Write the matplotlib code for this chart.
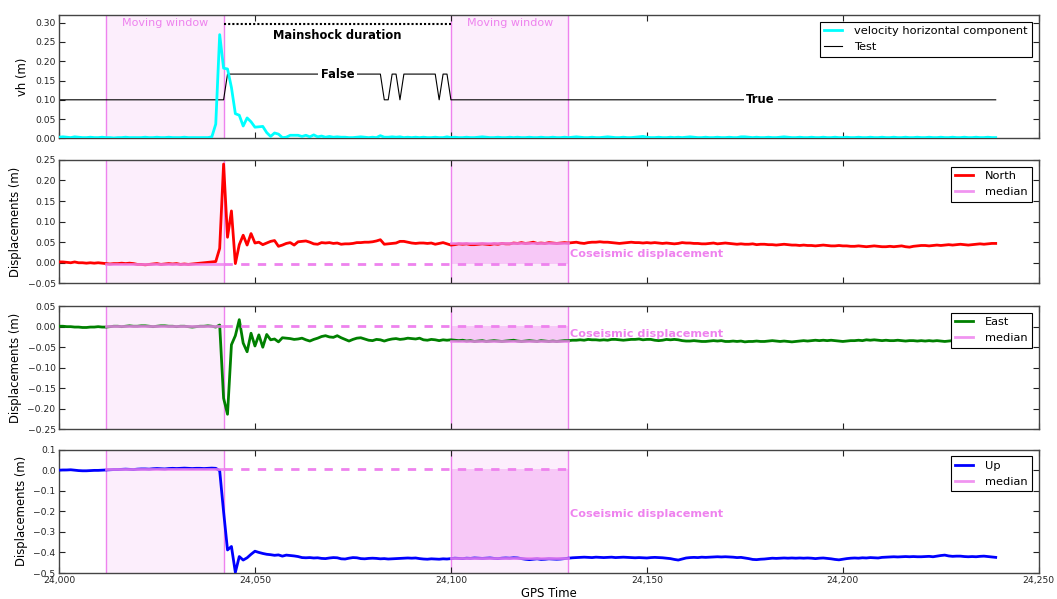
import numpy as np
import matplotlib
matplotlib.use("Agg")
import matplotlib.pyplot as plt
from matplotlib.ticker import StrMethodFormatter, MultipleLocator

# GPS epochs, one per second
T0 = 24000
N_EPOCHS = 240

# horizontal velocity (m)
vh = [
    0.003, 0.004, 0.003, 0.002, 0.004, 0.003, 0.002, 0.002, 0.003, 0.002,
    0.002, 0.003, 0.002, 0.002, 0.001, 0.002, 0.002, 0.003, 0.002, 0.002,
    0.002, 0.002, 0.003, 0.002, 0.002, 0.003, 0.002, 0.002, 0.003, 0.002,
    0.002, 0.002, 0.003, 0.002, 0.002, 0.002, 0.002, 0.002, 0.002, 0.004,
    0.037, 0.269, 0.182, 0.180, 0.132, 0.064, 0.060, 0.032, 0.053, 0.043,
    0.029, 0.030, 0.031, 0.015, 0.005, 0.014, 0.011, 0.002, 0.003, 0.008,
    0.008, 0.008, 0.005, 0.008, 0.004, 0.009, 0.004, 0.006, 0.003, 0.005,
    0.003, 0.004, 0.003, 0.003, 0.002, 0.002, 0.003, 0.004, 0.003, 0.002,
    0.003, 0.002, 0.007, 0.003, 0.003, 0.004, 0.003, 0.004, 0.002, 0.003,
    0.002, 0.003, 0.002, 0.003, 0.002, 0.002, 0.003, 0.002, 0.002, 0.004,
    0.002, 0.003, 0.002, 0.002, 0.003, 0.002, 0.002, 0.003, 0.004, 0.003,
    0.002, 0.002, 0.003, 0.002, 0.002, 0.003, 0.002, 0.003, 0.002, 0.002,
    0.003, 0.002, 0.002, 0.003, 0.002, 0.002, 0.003, 0.002, 0.002, 0.003,
    0.002, 0.003, 0.004, 0.003, 0.002, 0.002, 0.003, 0.002, 0.002, 0.003,
    0.004, 0.003, 0.002, 0.002, 0.003, 0.002, 0.002, 0.003, 0.004, 0.005,
    0.003, 0.002, 0.002, 0.003, 0.002, 0.002, 0.003, 0.002, 0.003, 0.002,
    0.003, 0.004, 0.003, 0.002, 0.002, 0.003, 0.002, 0.002, 0.003, 0.002,
    0.002, 0.003, 0.002, 0.002, 0.004, 0.004, 0.003, 0.002, 0.003, 0.002,
    0.002, 0.003, 0.002, 0.002, 0.003, 0.004, 0.003, 0.002, 0.002, 0.003,
    0.002, 0.002, 0.003, 0.002, 0.002, 0.003, 0.002, 0.002, 0.003, 0.002,
    0.002, 0.003, 0.002, 0.002, 0.003, 0.002, 0.002, 0.003, 0.002, 0.002,
    0.003, 0.002, 0.002, 0.003, 0.002, 0.002, 0.003, 0.002, 0.002, 0.003,
    0.002, 0.002, 0.003, 0.002, 0.002, 0.003, 0.002, 0.002, 0.003, 0.002,
    0.002, 0.003, 0.002, 0.002, 0.003, 0.002, 0.002, 0.003, 0.002, 0.002,
]

# mainshock test flag: 1 = True, 0 = False
test_flag = [
    1, 1, 1, 1, 1, 1, 1, 1, 1, 1, 1, 1, 1, 1, 1, 1, 1, 1, 1, 1,
    1, 1, 1, 1, 1, 1, 1, 1, 1, 1, 1, 1, 1, 1, 1, 1, 1, 1, 1, 1,
    1, 1, 1, 0, 0, 0, 0, 0, 0, 0, 0, 0, 0, 0, 0, 0, 0, 0, 0, 0,
    0, 0, 0, 0, 0, 0, 0, 0, 0, 0, 0, 0, 0, 0, 0, 0, 0, 0, 0, 0,
    0, 0, 0, 1, 1, 0, 0, 1, 0, 0, 0, 0, 0, 0, 0, 0, 0, 1, 0, 0,
    1, 1, 1, 1, 1, 1, 1, 1, 1, 1, 1, 1, 1, 1, 1, 1, 1, 1, 1, 1,
    1, 1, 1, 1, 1, 1, 1, 1, 1, 1, 1, 1, 1, 1, 1, 1, 1, 1, 1, 1,
    1, 1, 1, 1, 1, 1, 1, 1, 1, 1, 1, 1, 1, 1, 1, 1, 1, 1, 1, 1,
    1, 1, 1, 1, 1, 1, 1, 1, 1, 1, 1, 1, 1, 1, 1, 1, 1, 1, 1, 1,
    1, 1, 1, 1, 1, 1, 1, 1, 1, 1, 1, 1, 1, 1, 1, 1, 1, 1, 1, 1,
    1, 1, 1, 1, 1, 1, 1, 1, 1, 1, 1, 1, 1, 1, 1, 1, 1, 1, 1, 1,
    1, 1, 1, 1, 1, 1, 1, 1, 1, 1, 1, 1, 1, 1, 1, 1, 1, 1, 1, 1,
]
TRUE_LEVEL = 0.10
FALSE_LEVEL = 0.1667

north = [
    0.002, 0.002, 0.001, 0.000, 0.002, 0.000, 0.000, -0.001, 0.000, -0.001,
    0.000, -0.001, -0.002, -0.003, -0.002, -0.002, -0.001, -0.002, -0.001, -0.002,
    -0.004, -0.004, -0.005, -0.004, -0.003, -0.002, -0.004, -0.003, -0.002, -0.003,
    -0.002, -0.004, -0.003, -0.004, -0.003, -0.002, -0.001, 0.000, 0.001, 0.002,
    0.003, 0.035, 0.240, 0.062, 0.126, -0.002, 0.044, 0.067, 0.043, 0.071,
    0.048, 0.050, 0.044, 0.048, 0.052, 0.054, 0.040, 0.043, 0.047, 0.049,
    0.043, 0.051, 0.052, 0.053, 0.050, 0.046, 0.045, 0.049, 0.048, 0.049,
    0.047, 0.048, 0.045, 0.046, 0.046, 0.047, 0.049, 0.049, 0.050, 0.050,
    0.051, 0.053, 0.056, 0.045, 0.046, 0.047, 0.048, 0.052, 0.052, 0.050,
    0.048, 0.047, 0.048, 0.048, 0.047, 0.048, 0.045, 0.047, 0.049, 0.046,
    0.043, 0.044, 0.046, 0.045, 0.046, 0.044, 0.044, 0.045, 0.046, 0.045,
    0.044, 0.046, 0.045, 0.047, 0.046, 0.046, 0.048, 0.047, 0.049, 0.047,
    0.048, 0.050, 0.047, 0.048, 0.047, 0.049, 0.048, 0.047, 0.048, 0.049,
    0.048, 0.049, 0.050, 0.048, 0.047, 0.049, 0.050, 0.050, 0.051, 0.050,
    0.050, 0.049, 0.048, 0.047, 0.048, 0.049, 0.050, 0.049, 0.049, 0.048,
    0.049, 0.048, 0.049, 0.048, 0.047, 0.048, 0.047, 0.046, 0.047, 0.049,
    0.048, 0.048, 0.047, 0.047, 0.046, 0.046, 0.047, 0.048, 0.046, 0.047,
    0.048, 0.047, 0.046, 0.045, 0.046, 0.045, 0.045, 0.046, 0.044, 0.045,
    0.045, 0.044, 0.044, 0.043, 0.044, 0.045, 0.044, 0.043, 0.043, 0.042,
    0.043, 0.042, 0.042, 0.041, 0.042, 0.043, 0.042, 0.041, 0.041, 0.042,
    0.041, 0.041, 0.040, 0.040, 0.041, 0.040, 0.039, 0.040, 0.041, 0.040,
    0.039, 0.039, 0.040, 0.039, 0.040, 0.041, 0.039, 0.038, 0.040, 0.041,
    0.042, 0.042, 0.041, 0.042, 0.043, 0.042, 0.043, 0.044, 0.043, 0.044,
    0.045, 0.044, 0.043, 0.044, 0.045, 0.046, 0.045, 0.046, 0.047, 0.047,
]

east = [
    0.001, 0.001, 0.000, 0.000, -0.001, -0.001, -0.002, -0.002, -0.001, -0.001,
    0.000, -0.001, -0.001, 0.000, 0.001, 0.001, 0.000, 0.001, 0.002, 0.001,
    0.001, 0.002, 0.002, 0.001, 0.000, 0.001, 0.002, 0.002, 0.001, 0.001,
    0.000, 0.001, 0.001, 0.000, -0.001, 0.000, 0.001, 0.001, 0.002, 0.001,
    -0.001, 0.004, -0.174, -0.213, -0.044, -0.022, 0.017, -0.040, -0.061, -0.016,
    -0.047, -0.020, -0.050, -0.019, -0.032, -0.030, -0.037, -0.027, -0.028, -0.029,
    -0.031, -0.030, -0.028, -0.032, -0.035, -0.031, -0.028, -0.024, -0.022, -0.025,
    -0.026, -0.022, -0.027, -0.031, -0.035, -0.031, -0.028, -0.027, -0.030, -0.033,
    -0.034, -0.031, -0.032, -0.035, -0.032, -0.030, -0.029, -0.031, -0.030, -0.028,
    -0.029, -0.030, -0.028, -0.032, -0.033, -0.031, -0.032, -0.034, -0.032, -0.033,
    -0.032, -0.033, -0.034, -0.033, -0.035, -0.034, -0.036, -0.035, -0.034, -0.036,
    -0.035, -0.034, -0.035, -0.036, -0.035, -0.034, -0.033, -0.035, -0.036, -0.035,
    -0.034, -0.035, -0.036, -0.034, -0.035, -0.036, -0.035, -0.036, -0.035, -0.034,
    -0.034, -0.033, -0.033, -0.032, -0.033, -0.031, -0.032, -0.032, -0.033, -0.032,
    -0.033, -0.031, -0.031, -0.032, -0.033, -0.032, -0.031, -0.031, -0.030, -0.032,
    -0.031, -0.031, -0.033, -0.034, -0.033, -0.031, -0.032, -0.031, -0.032, -0.034,
    -0.035, -0.035, -0.034, -0.035, -0.036, -0.036, -0.035, -0.034, -0.035, -0.034,
    -0.036, -0.036, -0.035, -0.036, -0.035, -0.037, -0.036, -0.036, -0.035, -0.036,
    -0.036, -0.035, -0.034, -0.035, -0.036, -0.035, -0.036, -0.037, -0.036, -0.035,
    -0.034, -0.035, -0.034, -0.033, -0.034, -0.033, -0.034, -0.033, -0.034, -0.035,
    -0.036, -0.035, -0.034, -0.034, -0.033, -0.034, -0.032, -0.033, -0.032, -0.033,
    -0.034, -0.033, -0.034, -0.034, -0.033, -0.034, -0.035, -0.034, -0.034, -0.035,
    -0.034, -0.035, -0.034, -0.035, -0.034, -0.035, -0.036, -0.035, -0.034, -0.035,
    -0.035, -0.034, -0.035, -0.035, -0.034, -0.035, -0.036, -0.035, -0.035, -0.035,
]

up = [
    0.000, 0.001, 0.001, 0.002, 0.000, -0.002, -0.003, -0.003, -0.002, -0.001,
    -0.001, 0.000, 0.001, 0.002, 0.003, 0.003, 0.004, 0.005, 0.004, 0.003,
    0.005, 0.006, 0.006, 0.005, 0.007, 0.008, 0.007, 0.006, 0.008, 0.009,
    0.008, 0.009, 0.010, 0.009, 0.008, 0.009, 0.009, 0.008, 0.009, 0.010,
    0.009, -0.002, -0.202, -0.388, -0.371, -0.497, -0.420, -0.437, -0.426, -0.409,
    -0.394, -0.400, -0.405, -0.409, -0.411, -0.414, -0.412, -0.418, -0.413, -0.415,
    -0.417, -0.420, -0.425, -0.426, -0.425, -0.427, -0.426, -0.429, -0.430, -0.427,
    -0.425, -0.426, -0.431, -0.432, -0.428, -0.425, -0.426, -0.430, -0.431, -0.429,
    -0.428, -0.429, -0.431, -0.430, -0.432, -0.431, -0.430, -0.429, -0.428, -0.427,
    -0.428, -0.427, -0.430, -0.432, -0.433, -0.431, -0.432, -0.433, -0.431, -0.432,
    -0.430, -0.428, -0.429, -0.430, -0.428, -0.429, -0.427, -0.428, -0.429, -0.428,
    -0.427, -0.429, -0.430, -0.428, -0.427, -0.428, -0.426, -0.427, -0.430, -0.433,
    -0.435, -0.433, -0.431, -0.434, -0.433, -0.431, -0.432, -0.433, -0.432, -0.430,
    -0.428, -0.426, -0.425, -0.424, -0.423, -0.424, -0.425, -0.423, -0.424, -0.425,
    -0.424, -0.423, -0.425, -0.424, -0.423, -0.424, -0.425, -0.426, -0.425, -0.426,
    -0.427, -0.425, -0.424, -0.425, -0.426, -0.428, -0.430, -0.434, -0.437, -0.432,
    -0.427, -0.425, -0.424, -0.425, -0.423, -0.424, -0.423, -0.422, -0.421, -0.422,
    -0.421, -0.422, -0.423, -0.425, -0.424, -0.427, -0.430, -0.434, -0.435, -0.433,
    -0.432, -0.430, -0.428, -0.429, -0.428, -0.427, -0.428, -0.427, -0.428, -0.427,
    -0.428, -0.427, -0.428, -0.430, -0.428, -0.427, -0.429, -0.431, -0.434, -0.436,
    -0.433, -0.430, -0.428, -0.427, -0.428, -0.426, -0.427, -0.425, -0.426, -0.427,
    -0.424, -0.423, -0.422, -0.421, -0.422, -0.421, -0.420, -0.421, -0.420, -0.421,
    -0.421, -0.420, -0.419, -0.421, -0.418, -0.415, -0.413, -0.417, -0.419, -0.418,
    -0.418, -0.420, -0.421, -0.420, -0.421, -0.419, -0.418, -0.420, -0.422, -0.424,
]

# windows (GPS time)
pre_window = (24012, 24042)
post_window = (24100, 24130)

components = [
    ("North", north, "red", (-0.05, 0.25), 0.05),
    ("East", east, "green", (-0.25, 0.05), 0.05),
    ("Up", up, "blue", (-0.5, 0.1), 0.1),
]

t = np.arange(N_EPOCHS) + T0
VIOLET = "violet"

plt.rcParams["font.family"] = "DejaVu Sans"
fig = plt.figure(figsize=(10.57, 5.99), dpi=100)

left, width = 0.0558, 0.927
bottoms = [0.769, 0.527, 0.283, 0.0434]
height = 0.206
axes = []
for b in bottoms:
    ax = fig.add_axes([left, b, width, height], sharex=axes[0] if axes else None)
    axes.append(ax)


def style_axis(ax):
    ax.tick_params(direction="in", top=True, right=True, length=4, width=0.8,
                   labelsize=6.6, colors="#222222", pad=2.5)
    for s in ax.spines.values():
        s.set_linewidth(1.0)
        s.set_color("#444444")
    # moving windows
    for w in (pre_window, post_window):
        ax.axvspan(w[0], w[1], facecolor=VIOLET, alpha=0.13, lw=0, zorder=0)
        ax.axvline(w[0], color=VIOLET, lw=1, zorder=1)
        ax.axvline(w[1], color=VIOLET, lw=1, zorder=1)


def style_legend(ax):
    leg = ax.legend(loc="upper right", fontsize=8.2, fancybox=False, framealpha=1,
                    handlelength=1.6, handletextpad=1.0, borderaxespad=0.6)
    leg.get_frame().set_edgecolor("black")
    leg.get_frame().set_linewidth(0.8)


# --- velocity panel
ax = axes[0]
style_axis(ax)
ax.plot(t, vh, color="cyan", lw=2, label="velocity horizontal component", zorder=3)
test_y = [TRUE_LEVEL if f else FALSE_LEVEL for f in test_flag]
ax.plot(t, test_y, color="black", lw=0.8, label="Test", zorder=2)
ax.plot([pre_window[1], post_window[0]], [0.297, 0.297], color="black",
        ls=(0, (1, 1)), lw=1.5)
ax.text(24071, 0.266, "Mainshock duration", ha="center", va="center",
        fontsize=8.3, fontweight="bold")
ax.text(24071, FALSE_LEVEL, "False", ha="center", va="center", fontsize=8.3,
        fontweight="bold", bbox=dict(facecolor="white", edgecolor="none", pad=2))
ax.text(24179, TRUE_LEVEL, "True", ha="center", va="center", fontsize=8.3,
        fontweight="bold", bbox=dict(facecolor="white", edgecolor="none", pad=2))
for w in (pre_window, post_window):
    ax.text((w[0] + w[1]) / 2, 0.30, "Moving window", ha="center", va="center",
            fontsize=8, color=VIOLET)
ax.set_ylim(0, 0.32)
ax.yaxis.set_major_locator(MultipleLocator(0.05))
ax.yaxis.set_major_formatter(StrMethodFormatter("{x:.2f}"))
ax.set_ylabel("vh (m)", fontsize=8.4)
style_legend(ax)

# --- displacement panels
for ax, (name, vals, col, ylim, step) in zip(axes[1:], components):
    style_axis(ax)
    vals = np.array(vals)
    ax.plot(t, vals, color=col, lw=2, label=name, zorder=3)
    pre_mask = (t >= pre_window[0]) & (t <= pre_window[1])
    post_mask = (t >= post_window[0]) & (t <= post_window[1])
    pre_med = np.median(vals[pre_mask])
    post_med = np.median(vals[post_mask])
    ax.plot(pre_window, [pre_med, pre_med], color=VIOLET, lw=2, alpha=0.85,
            label="median", zorder=4)
    ax.plot([pre_window[1], post_window[1]], [pre_med, pre_med], color=VIOLET,
            lw=2, ls=(0, (3, 3)), zorder=4)
    ax.plot(post_window, [post_med, post_med], color=VIOLET, lw=2, alpha=0.85, zorder=4)
    ax.fill_between(post_window, [pre_med, pre_med], [post_med, post_med],
                    color=VIOLET, alpha=0.35, lw=0, zorder=2)
    ax.text(post_window[1] + 0.5, (pre_med + post_med) / 2, "Coseismic displacement",
            ha="left", va="center", fontsize=8.1, fontweight="bold", color=VIOLET)
    ax.set_ylim(*ylim)
    ax.yaxis.set_major_locator(MultipleLocator(step))
    ax.yaxis.set_major_formatter(StrMethodFormatter("{x:.2f}" if step < 0.1 else "{x:.1f}"))
    ax.set_ylabel("Displacements (m)", fontsize=8.4)
    style_legend(ax)

for ax in axes[:-1]:
    ax.tick_params(labelbottom=False)
axes[-1].set_xlim(24000, 24250)
axes[-1].xaxis.set_major_locator(MultipleLocator(50))
axes[-1].xaxis.set_major_formatter(StrMethodFormatter("{x:,.0f}"))
axes[-1].set_xlabel("GPS Time", fontsize=8.4, labelpad=1)

fig.savefig("out.png", dpi=100)
